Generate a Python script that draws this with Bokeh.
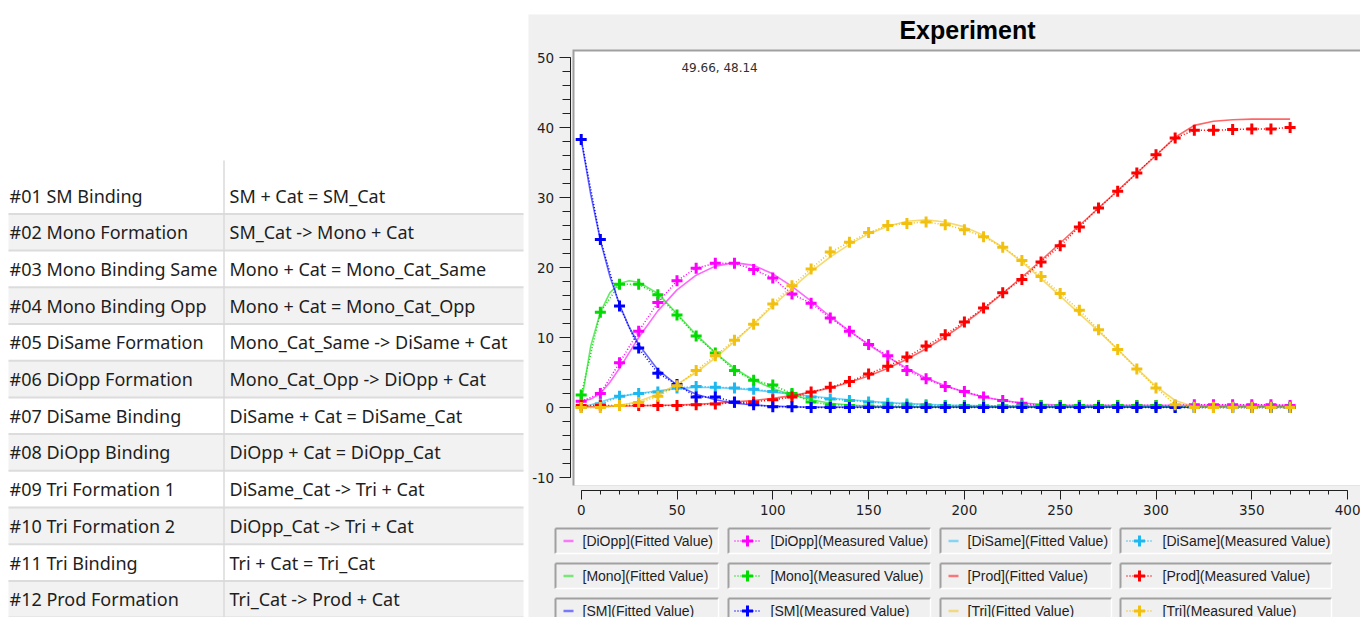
from bokeh.plotting import figure
from bokeh.models import Range1d, SingleIntervalTicker, Label, PrintfTickFormatter, LinearAxis
from bokeh.core.properties import value
from bokeh.embed import file_html
from bokeh.resources import INLINE

# ---------------- data ----------------
reaction_names = ["#01 SM Binding", "#02 Mono Formation", "#03 Mono Binding Same",
                  "#04 Mono Binding Opp", "#05 DiSame Formation", "#06 DiOpp Formation",
                  "#07 DiSame Binding", "#08 DiOpp Binding", "#09 Tri Formation 1",
                  "#10 Tri Formation 2", "#11 Tri Binding", "#12 Prod Formation"]
reaction_equations = ["SM + Cat = SM_Cat", "SM_Cat -> Mono + Cat", "Mono + Cat = Mono_Cat_Same",
                      "Mono + Cat = Mono_Cat_Opp", "Mono_Cat_Same -> DiSame + Cat",
                      "Mono_Cat_Opp -> DiOpp + Cat", "DiSame + Cat = DiSame_Cat",
                      "DiOpp + Cat = DiOpp_Cat", "DiSame_Cat -> Tri + Cat",
                      "DiOpp_Cat -> Tri + Cat", "Tri + Cat = Tri_Cat", "Tri_Cat -> Prod + Cat"]

chart_title = "Experiment"
cursor_readout = "49.66, 48.14"

time_measured = [0, 10, 20, 30, 40, 50, 60, 70, 80, 90, 100, 110, 120, 130, 140, 150, 160, 170,
                 180, 190, 200, 210, 220, 230, 240, 250, 260, 270, 280, 290, 300, 310, 320, 330,
                 340, 350, 360, 370]
time_fitted = [0, 5, 10, 15, 20, 25, 30, 40, 50, 60, 70, 80, 90, 100, 110, 120, 130, 140, 150,
               160, 170, 180, 190, 200, 210, 220, 230, 240, 250, 260, 270, 280, 290, 300, 310,
               320, 330, 340, 350, 360, 370]

diopp_fitted = [0.9, 1.2, 2.0, 3.6, 5.6, 7.8, 10.0, 13.8, 16.8, 18.9, 20.2, 20.7, 20.3, 19.1, 17.3,
                15.2, 13.0, 10.9, 9.0, 7.2, 5.6, 4.2, 3.1, 2.2, 1.5, 1.0, 0.65, 0.45, 0.35, 0.3,
                0.3, 0.3, 0.3, 0.3, 0.3, 0.3, 0.3, 0.3, 0.3, 0.3, 0.3]
diopp_measured = [0.9, 2.0, 6.4, 10.9, 15.0, 18.1, 19.9, 20.6, 20.6, 19.7, 18.5, 16.2, 14.9, 12.8,
                  10.9, 9.0, 7.4, 5.3, 4.1, 3.0, 2.3, 1.5, 1.0, 0.6, 0.3, 0.3, 0.3, 0.3, 0.3, 0.3,
                  0.3, 0.3, 0.4, 0.4, 0.4, 0.4, 0.4, 0.3]

disame_fitted = [0.0, 0.4, 0.8, 1.2, 1.5, 1.8, 2.0, 2.4, 2.7, 2.85, 2.85, 2.7, 2.5, 2.2, 1.9, 1.6,
                 1.35, 1.1, 0.9, 0.7, 0.55, 0.45, 0.35, 0.3, 0.25, 0.22, 0.2, 0.18, 0.16, 0.14,
                 0.12, 0.1, 0.1, 0.08, 0.05, 0.05, 0.05, 0.05, 0.05, 0.05, 0.05]
disame_measured = [0.0, 0.5, 1.6, 2.0, 2.2, 2.8, 3.0, 2.9, 2.8, 2.6, 2.3, 1.9, 1.5, 1.2, 1.0, 0.8,
                   0.6, 0.5, 0.4, 0.3, 0.3, 0.2, 0.2, 0.2, 0.2, 0.2, 0.2, 0.2, 0.2, 0.1, 0.1, 0.0,
                   0.0, 0.0, 0.0, 0.0, 0.0, 0.0]

mono_fitted = [0.6, 8.8, 13.6, 16.4, 17.7, 18.1, 17.9, 16.3, 13.4, 10.4, 7.8, 5.6, 3.9, 2.7, 1.8,
               1.1, 0.6, 0.35, 0.2, 0.15, 0.1, 0.1, 0.1, 0.1, 0.1, 0.1, 0.1, 0.1, 0.1, 0.1, 0.1,
               0.1, 0.1, 0.1, 0.1, 0.1, 0.1, 0.1, 0.1, 0.1, 0.1]
mono_measured = [1.8, 13.6, 17.6, 17.6, 16.1, 13.2, 10.2, 7.8, 5.3, 3.9, 3.2, 2.0, 0.8, 0.4, 0.3,
                 0.2, 0.2, 0.2, 0.2, 0.2, 0.2, 0.2, 0.2, 0.2, 0.3, 0.3, 0.3, 0.3, 0.3, 0.3, 0.3,
                 0.1, 0.1, 0.1, 0.1, 0.1, 0.1, 0.1]

prod_fitted = [0.1, 0.1, 0.15, 0.18, 0.2, 0.22, 0.25, 0.3, 0.35, 0.45, 0.6, 0.8, 1.0, 1.3, 1.7,
               2.2, 2.8, 3.6, 4.5, 5.6, 6.9, 8.4, 10.1, 12.0, 14.1, 16.3, 18.6, 21.0, 23.5, 26.0,
               28.5, 31.0, 33.5, 36.0, 38.6, 40.3, 40.9, 41.1, 41.2, 41.2, 41.2]
prod_measured = [0.3, 0.3, 0.3, 0.3, 0.3, 0.3, 0.4, 0.5, 0.7, 0.8, 1.1, 1.5, 2.2, 2.9, 3.7, 4.8,
                 5.9, 7.2, 8.8, 10.4, 12.2, 14.2, 16.4, 18.3, 20.8, 23.1, 25.8, 28.5, 30.9, 33.5,
                 36.1, 38.5, 39.6, 39.6, 39.7, 39.8, 39.8, 40.0]

sm_fitted = [38.3, 30.4, 23.9, 18.7, 14.7, 11.5, 9.0, 5.4, 3.2, 1.9, 1.1, 0.6, 0.35, 0.2, 0.1,
             0.05, 0.05, 0.05, 0.05, 0.05, 0.05, 0.05, 0.05, 0.05, 0.05, 0.05, 0.05, 0.05, 0.05,
             0.05, 0.05, 0.05, 0.05, 0.05, 0.05, 0.05, 0.05, 0.05, 0.05, 0.05, 0.05]
sm_measured = [38.3, 24.0, 14.5, 8.5, 4.9, 3.3, 1.5, 1.5, 0.8, 0.4, 0.1, 0.1, 0.0, 0.0, 0.0, 0.0,
               0.0, 0.0, 0.0, 0.0, 0.0, 0.0, 0.0, 0.0, 0.0, 0.0, 0.0, 0.0, 0.0, 0.0, 0.0, 0.0,
               0.0, 0.0, 0.0, 0.0, 0.0, 0.0]

tri_fitted = [0.0, 0.0, 0.05, 0.15, 0.3, 0.55, 0.9, 1.9, 3.3, 5.0, 7.1, 9.4, 11.9, 14.5, 17.0,
              19.4, 21.5, 23.3, 24.8, 25.9, 26.6, 26.8, 26.5, 25.8, 24.6, 22.9, 20.8, 18.4, 15.9,
              13.4, 10.9, 8.3, 5.6, 3.0, 1.0, 0.1, 0.05, 0.05, 0.05, 0.05, 0.05]
tri_measured = [0.0, 0.0, 0.3, 0.7, 1.6, 3.1, 5.3, 7.4, 9.6, 11.9, 14.8, 17.4, 19.8, 22.2, 23.6,
                25.0, 26.0, 26.3, 26.5, 26.1, 25.4, 24.4, 22.9, 21.0, 18.7, 16.3, 13.9, 11.1, 8.3,
                5.5, 2.8, 0.4, 0.0, 0.0, 0.0, 0.0, 0.0, 0.0]

species = ["DiOpp", "DiSame", "Mono", "Prod", "SM", "Tri"]
species_colors = ["#ff00ff", "#1eb8f0", "#00dc00", "#ff0000", "#0000ff", "#f2c10f"]
fitted_series = [diopp_fitted, disame_fitted, mono_fitted, prod_fitted, sm_fitted, tri_fitted]
measured_series = [diopp_measured, disame_measured, mono_measured, prod_measured, sm_measured,
                   tri_measured]

x_axis_bounds = (0, 400)
y_axis_bounds = (-10, 50)
x_ticks_interval = 50
y_ticks_interval = 10

# ---------------- styling / layout constants ----------------
W, H = 1360, 617
PANEL_BG = "#f0f0f0"
TEXT_DARK = "#1e1e1e"
UI_FONT = "Liberation Sans"
TABLE_FONT = "Noto Sans"
TICK_FONT = "DejaVu Sans"

# chart scale: page x = 580.7 + 1.916 * t ; page y = 407 - 7 * value
PX_PER_X, X_ZERO_PX = 1.916, 580.7
PX_PER_Y, Y_ZERO_PX = 7.0, 407.0
x_lo, x_hi = (0 - X_ZERO_PX) / PX_PER_X, (W - X_ZERO_PX) / PX_PER_X
y_lo, y_hi = (Y_ZERO_PX - H) / PX_PER_Y, (Y_ZERO_PX - 0) / PX_PER_Y

p = figure(width=W, height=H, x_range=Range1d(x_lo, x_hi), y_range=Range1d(y_lo, y_hi),
           toolbar_location=None, output_backend="svg", title=None, min_border=0,
           x_axis_type=None, y_axis_type=None,
           background_fill_color="white", border_fill_color="white", outline_line_color=None)
p.grid.visible = False
# page-pixel coordinates for table, title band and legend
p.extra_x_ranges = {"px": Range1d(0, W)}
p.extra_y_ranges = {"px": Range1d(H, 0)}
PX = dict(x_range_name="px", y_range_name="px")

# ---------------- left: reaction table ----------------
ROW_TOP0, ROW_H = 176.7, 36.7
TBL_L, TBL_R, COL_DIV = 8, 523, 223.5
n_rows = len(reaction_names)
tops = [ROW_TOP0 + i * ROW_H for i in range(n_rows)]
bottoms = [t + ROW_H for t in tops]
centers = [t + ROW_H / 2 for t in tops]
fills = ["#ffffff" if i % 2 == 0 else "#f2f2f2" for i in range(n_rows)]
p.quad(left=TBL_L, right=TBL_R, top=tops, bottom=bottoms, fill_color=fills, line_color=None, **PX)
p.segment(x0=TBL_L, x1=TBL_R, y0=bottoms, y1=bottoms, line_color="#dcdcdc", line_width=2, **PX)
p.segment(x0=[COL_DIV], x1=[COL_DIV], y0=[160], y1=[H], line_color="#dadada", line_width=1.5,
          **PX)
p.text(x=TBL_L + 1, y=centers, text=reaction_names, text_font=value(TABLE_FONT),
       text_font_size="18px", text_baseline="middle", text_color=TEXT_DARK, **PX)
p.text(x=COL_DIV + 5.5, y=centers, text=reaction_equations, text_font=value(TABLE_FONT),
       text_font_size="18px", text_baseline="middle", text_color=TEXT_DARK, **PX)

# ---------------- right panel background, title, plot area ----------------
RP_L, RP_T = 528, 14
PA_L, PA_T, PA_B = 572, 49, 485       # plot area (sunken white box)
p.quad(left=[RP_L], right=[W], top=[RP_T], bottom=[H], fill_color=PANEL_BG, line_color=None, **PX)
p.quad(left=[PA_L], right=[W], top=[PA_T], bottom=[PA_B], fill_color="#a0a0a0",
       line_color=None, **PX)
p.quad(left=[PA_L + 2], right=[W], top=[PA_T + 2], bottom=[PA_B], fill_color="white",
       line_color=None, **PX)
p.text(x=[967], y=[29], text=[chart_title], text_font=value(UI_FONT), text_font_size="25px",
       text_font_style="bold", text_align="center", text_baseline="middle",
       text_color="#000000", **PX)

# ---------------- series ----------------
for name, col, fit, meas in zip(species, species_colors, fitted_series, measured_series):
    p.line(time_fitted, fit, line_color=col, line_width=1.6, line_alpha=0.6)
    p.line(time_measured, meas, line_color=col, line_width=1.5, line_dash="1 2")
    p.scatter(time_measured, meas, marker="cross", size=11, line_width=3, line_color=col)

# ---------------- axes (fixed inside the canvas) ----------------
xaxis = LinearAxis(fixed_location=(Y_ZERO_PX - 490) / PX_PER_Y)
yaxis = LinearAxis(fixed_location=(569.7 - X_ZERO_PX) / PX_PER_X)
p.add_layout(xaxis, "below")
p.add_layout(yaxis, "left")
for ax, interval, bounds, tick_out, minor_out in ((xaxis, x_ticks_interval, x_axis_bounds, 9, 4),
                                                  (yaxis, y_ticks_interval, y_axis_bounds, 11, 8)):
    ax.ticker = SingleIntervalTicker(interval=interval, num_minor_ticks=5)
    ax.formatter = PrintfTickFormatter(format="%d")
    ax.bounds = bounds
    ax.axis_line_color = "#202020"
    ax.major_tick_line_color = "#202020"
    ax.minor_tick_line_color = "#202020"
    ax.major_tick_in = 0
    ax.minor_tick_in = 0
    ax.major_tick_out = tick_out
    ax.minor_tick_out = minor_out
    ax.major_label_text_font = TICK_FONT
    ax.major_label_text_font_size = "13.5px"
    ax.major_label_text_color = TEXT_DARK
    ax.major_label_standoff = 5

p.add_layout(Label(x=52.3, y=48.57, text=cursor_readout, text_font=TICK_FONT,
                   text_font_size="12px", text_baseline="middle", text_color="#303030"))

# ---------------- legend ----------------
BOX_L = [555, 728, 940, 1120]
BOX_R = [718, 930, 1111, 1331]
ROW_T = [528, 563, 598]
BOX_H = 25
for i, (name, col) in enumerate(zip(species, species_colors)):
    for k, kind in enumerate(("Fitted Value", "Measured Value")):
        r, c = i // 2, (i % 2) * 2 + k
        l, rt, t = BOX_L[c], BOX_R[c], ROW_T[r]
        b = t + BOX_H
        cy = t + BOX_H / 2
        p.segment(x0=[l, l], x1=[rt, l], y0=[t, t], y1=[t, b], line_color="#a0a0a0",
                  line_width=2, **PX)
        p.segment(x0=[l, rt], x1=[rt, rt], y0=[b, t], y1=[b, b], line_color="#ffffff",
                  line_width=1.5, **PX)
        if k == 0:
            p.segment(x0=[l + 8], x1=[l + 18], y0=[cy], y1=[cy], line_color=col,
                      line_alpha=0.5, line_width=2.5, **PX)
            tx = l + 27
        else:
            p.segment(x0=[l + 6], x1=[l + 32], y0=[cy], y1=[cy], line_color=col,
                      line_width=1.5, line_dash="1 2", **PX)
            p.scatter(x=[l + 19], y=[cy], marker="cross", size=11, line_width=3,
                      line_color=col, **PX)
            tx = l + 42
        p.text(x=[tx], y=[cy], text=[f"[{name}]({kind})"], text_font=value(UI_FONT),
               text_font_size="14px", text_baseline="middle", text_color=TEXT_DARK, **PX)

open("out.html", "w").write(file_html(p, INLINE))
